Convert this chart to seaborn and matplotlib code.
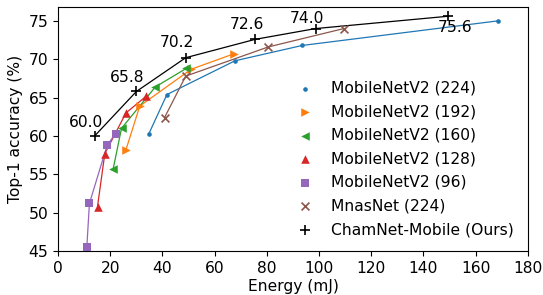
import matplotlib
matplotlib.use("Agg")
import matplotlib.pyplot as plt
import seaborn as sns
import pandas as pd

# energy (mJ) and top-1 accuracy (%)
mb224_energy = [34.8, 41.7, 67.8, 93.6, 168.5]
mb224_acc = [60.3, 65.4, 69.8, 71.8, 75.0]
mb192_energy = [26.0, 31.3, 51.0, 67.3]
mb192_acc = [58.2, 63.9, 68.7, 70.7]
mb160_energy = [21.1, 24.3, 37.3, 49.1]
mb160_acc = [55.7, 61.0, 66.4, 68.8]
mb128_energy = [15.1, 17.9, 26.0, 33.8]
mb128_acc = [50.8, 57.7, 63.0, 65.2]
mb96_energy = [11.0, 12.0, 18.8, 22.0]
mb96_acc = [45.5, 51.2, 58.8, 60.3]
mnas_energy = [40.8, 48.9, 80.5, 109.5]
mnas_acc = [62.4, 67.8, 71.6, 74.0]
cham_energy = [14.0, 30.0, 48.9, 75.6, 98.7, 149.3]
cham_acc = [60.0, 65.8, 70.2, 72.6, 74.0, 75.6]

labels = ["MobileNetV2 (224)", "MobileNetV2 (192)", "MobileNetV2 (160)",
          "MobileNetV2 (128)", "MobileNetV2 (96)", "MnasNet (224)",
          "ChamNet-Mobile (Ours)"]
energies = [mb224_energy, mb192_energy, mb160_energy, mb128_energy,
            mb96_energy, mnas_energy, cham_energy]
accs = [mb224_acc, mb192_acc, mb160_acc, mb128_acc, mb96_acc, mnas_acc, cham_acc]

frames = []
for lab, e, a in zip(labels, energies, accs):
    frames.append(pd.DataFrame({"energy": e, "acc": a, "model": lab}))
df = pd.concat(frames, ignore_index=True)

sns.set_style("ticks", {"axes.edgecolor": "black", "text.color": "black",
                        "axes.labelcolor": "black", "xtick.color": "black",
                        "ytick.color": "black"})
plt.rcParams["font.family"] = ["DejaVu Sans"]
plt.rcParams["font.size"] = 11.2

pal = sns.color_palette("tab10")
colors = [pal[0], pal[1], pal[2], pal[3], pal[4], pal[5], "black"]
markers = ["o", ">", "<", "^", "s", "x", "+"]
sizes = [11, 38, 38, 38, 34, 32, 48]

fig, ax = plt.subplots(figsize=(5.43, 2.95), dpi=100)
fig.subplots_adjust(left=0.107, right=0.972, top=0.976, bottom=0.149)

for lab, col, mk, sz in zip(labels, colors, markers, sizes):
    sub = df[df["model"] == lab]
    sns.lineplot(data=sub, x="energy", y="acc", color=col, lw=0.9,
                 legend=False, ax=ax, sort=False)
    if mk in ("x", "+"):
        sns.scatterplot(data=sub, x="energy", y="acc", color=col, marker=mk,
                        s=sz, linewidth=1.2, label=lab, ax=ax, zorder=3)
    else:
        sns.scatterplot(data=sub, x="energy", y="acc", color=col, marker=mk,
                        s=sz, linewidth=0, label=lab, ax=ax, zorder=3)

# accuracy labels next to the ChamNet points
offsets = [(-6, 10), (-7, 10), (-6, 11), (-6, 11), (-6, 7), (5, -8)]
for e, a, off in zip(cham_energy, cham_acc, offsets):
    ax.annotate(f"{a:.1f}", (e, a), xytext=off, textcoords="offset points",
                ha="center", va="center", fontsize=11.2)

ax.set_xlim(0, 180)
ax.set_ylim(45, 76.8)
ax.set_xticks(range(0, 181, 20))
ax.set_yticks(range(45, 76, 5))
ax.set_xlabel("Energy (mJ)", labelpad=2)
ax.set_ylabel("Top-1 accuracy (%)")
ax.legend(loc="lower right", frameon=False, fontsize=11.2, handletextpad=0.7,
          labelspacing=0.55)

fig.savefig("out.png", dpi=100)
